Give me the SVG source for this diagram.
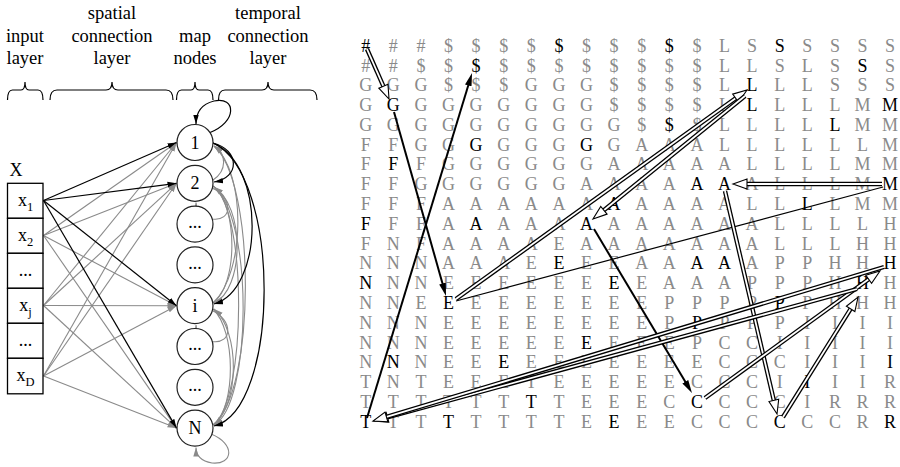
<svg xmlns="http://www.w3.org/2000/svg" width="900" height="467" viewBox="0 0 900 467">
  <style>
    text { font-family: "Liberation Serif", "Times New Roman", serif; }
    .hdr { font-size: 18.5px; fill: #000; text-anchor: middle; }
    .lbl { font-size: 18px; fill: #000; text-anchor: middle; }
    .brace { fill: none; stroke: #000; stroke-width: 1.2; }
    .cell { fill: #fff; stroke: #000; stroke-width: 1.3; }
    .node circle { fill: #fff; stroke: #222; stroke-width: 1.2; }
    .ek { fill: none; stroke: #000; stroke-width: 1.2; }
    .eg { fill: none; stroke: #8a8a8a; stroke-width: 1.1; }
    .row { font-size: 18px; fill: #8a8a8a; text-anchor: middle; }
    .row .k { fill: #000; }
    .ho { fill: none; stroke: #000; stroke-width: 4.4; }
    .hi { fill: none; stroke: #fff; stroke-width: 1.8; }
    .so { fill: none; stroke: #000; stroke-width: 2; }
    .thin { fill: none; stroke: #000; stroke-width: 1.2; }
  </style>
  <defs>
    <marker id="ak" markerUnits="userSpaceOnUse" markerWidth="9" markerHeight="7" viewBox="0 0 9 7" refX="9" refY="3.5" orient="auto">
      <path d="M0,0.8 L9,3.5 L0,6.2 Z" fill="#000"/>
    </marker>
    <marker id="ag" markerUnits="userSpaceOnUse" markerWidth="9" markerHeight="7" viewBox="0 0 9 7" refX="9" refY="3.5" orient="auto">
      <path d="M0,0.8 L9,3.5 L0,6.2 Z" fill="#8a8a8a"/>
    </marker>
    <marker id="sh" markerUnits="userSpaceOnUse" markerWidth="13" markerHeight="8" viewBox="0 0 13 8" refX="7" refY="4" orient="auto">
      <path d="M0,0.6 L13,4 L0,7.4 Z" fill="#000"/>
    </marker>
    <marker id="hh" markerUnits="userSpaceOnUse" markerWidth="16" markerHeight="12" viewBox="0 0 16 12" refX="7" refY="6" orient="auto" overflow="visible">
      <path d="M1,1 L15,6 L1,11 Z" fill="#fff" stroke="#000" stroke-width="1.1" stroke-linejoin="miter"/>
    </marker>
  </defs>

  <!-- column headings -->
  <g id="headings">
    <text class="hdr" x="25" y="41.5">input</text>
    <text class="hdr" x="25" y="64">layer</text>
    <text class="hdr" x="112" y="19">spatial</text>
    <text class="hdr" x="112" y="41.5">connection</text>
    <text class="hdr" x="112" y="64">layer</text>
    <text class="hdr" x="195" y="41.5">map</text>
    <text class="hdr" x="195" y="64">nodes</text>
    <text class="hdr" x="268" y="19">temporal</text>
    <text class="hdr" x="268" y="41.5">connection</text>
    <text class="hdr" x="268" y="64">layer</text>
  </g>

  <!-- curly braces under the headings -->
  <g id="braces">
    <path class="brace" d="M7.5,100 Q7.5,90 12.5,90 L21,90 Q25,90 25,82 Q25,90 29,90 L38,90 Q43,90 43,100"/>
    <path class="brace" d="M50,100 Q50,90 57,90 L106,90 Q112,90 112,82 Q112,90 118,90 L166,90 Q173,90 173,100"/>
    <path class="brace" d="M176.5,100 Q176.5,90 181.5,90 L191,90 Q195,90 195,82 Q195,90 199,90 L208,90 Q213,90 213,100"/>
    <path class="brace" d="M218.5,100 Q218.5,90 225,90 L262,90 Q268,90 268,82 Q268,90 274,90 L310,90 Q317,90 317,100"/>
  </g>

  <!-- all connectors of the network -->
  <g id="connectors">
    <!-- spatial connections, grey inputs -->
    <g id="spatial-grey">
      <path class="eg" d="M43.5,235.5 L176.5,142.5" marker-end="url(#ag)"/>
      <path class="eg" d="M43.5,235.5 L176.5,183.3" marker-end="url(#ag)"/>
      <path class="eg" d="M43.5,235.5 L176.5,305.7" marker-end="url(#ag)"/>
      <path class="eg" d="M43.5,235.5 L176.5,428.1" marker-end="url(#ag)"/>
      <path class="eg" d="M43.5,305.5 L176.5,142.5" marker-end="url(#ag)"/>
      <path class="eg" d="M43.5,305.5 L176.5,183.3" marker-end="url(#ag)"/>
      <path class="eg" d="M43.5,305.5 L176.5,305.7" marker-end="url(#ag)"/>
      <path class="eg" d="M43.5,305.5 L176.5,428.1" marker-end="url(#ag)"/>
      <path class="eg" d="M43.5,376 L176.5,142.5" marker-end="url(#ag)"/>
      <path class="eg" d="M43.5,376 L176.5,183.3" marker-end="url(#ag)"/>
      <path class="eg" d="M43.5,376 L176.5,305.7" marker-end="url(#ag)"/>
      <path class="eg" d="M43.5,376 L176.5,428.1" marker-end="url(#ag)"/>
    </g>
    <!-- spatial connections from x1 -->
    <g id="spatial-x1">
      <path class="ek" d="M43.5,200.5 L176.5,142.5" marker-end="url(#ak)"/>
      <path class="ek" d="M43.5,200.5 L176.5,183.3" marker-end="url(#ak)"/>
      <path class="ek" d="M43.5,200.5 L176.5,305.7" marker-end="url(#ak)"/>
      <path class="ek" d="M43.5,200.5 L176.5,428.1" marker-end="url(#ak)"/>
    </g>
    <!-- temporal connections between map nodes, grey -->
    <g id="temporal-grey">
      <path class="eg" d="M212,188 C233,197 233,222 212,219 C201,217 196,212 196,202.5" marker-end="url(#ag)"/>
      <path class="eg" d="M212,310.5 C233,319.5 233,344.5 212,341.5 C201,339.5 196,334.5 196,325" marker-end="url(#ag)"/>
      <path class="eg" d="M211,434 C236,444 233,465 212,463 C201,461 196,456 196,447.5" marker-end="url(#ag)"/>
      <path class="eg" d="M213,180 C227,171 227,153 214,146" marker-end="url(#ag)"/>
      <path class="eg" d="M213,303 C246,272 246,172 214,146" marker-end="url(#ag)"/>
      <path class="eg" d="M213,425 C256,392 256,182 214,146" marker-end="url(#ag)"/>
      <path class="eg" d="M213,186 C246,206 244,290 214,303" marker-end="url(#ag)"/>
      <path class="eg" d="M213,186 C254,216 252,405 214,425" marker-end="url(#ag)"/>
      <path class="eg" d="M213,303 C238,285 238,207 214,187" marker-end="url(#ag)"/>
      <path class="eg" d="M213,309 C236,331 236,405 214,425" marker-end="url(#ag)"/>
      <path class="eg" d="M213,425 C247,400 247,212 214,187" marker-end="url(#ag)"/>
      <path class="eg" d="M213,425 C240,405 240,331 214,309" marker-end="url(#ag)"/>
    </g>
    <!-- temporal connections leaving node 1 -->
    <g id="temporal-node1">
      <path class="ek" d="M209,133 C238,122 236,96 214,101 C202,104 196,112 196,124" marker-end="url(#ak)"/>
      <path class="ek" d="M213,143 C240,150 240,178 214,182" marker-end="url(#ak)"/>
      <path class="ek" d="M213,143 C266,165 264,290 214,304" marker-end="url(#ak)"/>
      <path class="ek" d="M213,143 C282,175 280,410 214,426" marker-end="url(#ak)"/>
    </g>
  </g>

  <!-- input layer -->
  <text class="lbl" x="16" y="175.5">X</text>
  <g id="input-x1"><rect class="cell" x="7.5" y="183.3" width="35.5" height="35"/><text class="lbl" x="25.5" y="205.5">x<tspan font-size="12.5" dy="5">1</tspan></text></g>
  <g id="input-x2"><rect class="cell" x="7.5" y="218.3" width="35.5" height="35"/><text class="lbl" x="25.5" y="240.5">x<tspan font-size="12.5" dy="5">2</tspan></text></g>
  <g id="input-dots1"><rect class="cell" x="7.5" y="253.3" width="35.5" height="35"/><text class="lbl" x="25.5" y="276">...</text></g>
  <g id="input-xj"><rect class="cell" x="7.5" y="288.3" width="35.5" height="35"/><text class="lbl" x="25.5" y="310.5">x<tspan font-size="12.5" dy="5">j</tspan></text></g>
  <g id="input-dots2"><rect class="cell" x="7.5" y="323.3" width="35.5" height="35"/><text class="lbl" x="25.5" y="346">...</text></g>
  <g id="input-xD"><rect class="cell" x="7.5" y="358.3" width="35.5" height="35.5"/><text class="lbl" x="25.5" y="381">x<tspan font-size="12.5" dy="5">D</tspan></text></g>

  <!-- map nodes -->
  <g id="node-1" class="node"><circle cx="195" cy="142.5" r="18"/><text class="lbl" x="195" y="148.5">1</text></g>
  <g id="node-2" class="node"><circle cx="195" cy="183.3" r="18"/><text class="lbl" x="195" y="189.3">2</text></g>
  <g id="node-3" class="node"><circle cx="195" cy="224.1" r="18"/><text class="lbl" x="195" y="228">...</text></g>
  <g id="node-4" class="node"><circle cx="195" cy="264.9" r="18"/><text class="lbl" x="195" y="268.8">...</text></g>
  <g id="node-i" class="node"><circle cx="195" cy="305.7" r="18"/><text class="lbl" x="195" y="311.7">i</text></g>
  <g id="node-6" class="node"><circle cx="195" cy="346.5" r="18"/><text class="lbl" x="195" y="350.4">...</text></g>
  <g id="node-7" class="node"><circle cx="195" cy="387.3" r="18"/><text class="lbl" x="195" y="391.2">...</text></g>
  <g id="node-N" class="node"><circle cx="195" cy="428.1" r="18"/><text class="lbl" x="195" y="434.1">N</text></g>

  <!-- symbol grid of the map: 20 columns x 20 rows, highlighted cells in black -->
  <g id="grid">
    <text class="row" x="365.7 393.3 420.9 448.5 476.1 503.7 531.3 558.9 586.5 614.1 641.7 669.3 696.9 724.5 752.1 779.7 807.3 834.9 862.5 890.1" y="51.7"><tspan class="k">#</tspan>##$$$$<tspan class="k">$</tspan>$$$<tspan class="k">$</tspan>$LS<tspan class="k">S</tspan>SSSS</text>
    <text class="row" x="365.7 393.3 420.9 448.5 476.1 503.7 531.3 558.9 586.5 614.1 641.7 669.3 696.9 724.5 752.1 779.7 807.3 834.9 862.5 890.1" y="71.5">##$$<tspan class="k">$</tspan>$$$$$$$$LLSLS<tspan class="k">S</tspan>S</text>
    <text class="row" x="365.7 393.3 420.9 448.5 476.1 503.7 531.3 558.9 586.5 614.1 641.7 669.3 696.9 724.5 752.1 779.7 807.3 834.9 862.5 890.1" y="91.3">GGG$$$GGG$$$$L<tspan class="k">L</tspan>LLSSS</text>
    <text class="row" x="365.7 393.3 420.9 448.5 476.1 503.7 531.3 558.9 586.5 614.1 641.7 669.3 696.9 724.5 752.1 779.7 807.3 834.9 862.5 890.1" y="111.1">G<tspan class="k">G</tspan>GGGGGGG$$$$L<tspan class="k">L</tspan>LLLM<tspan class="k">M</tspan></text>
    <text class="row" x="365.7 393.3 420.9 448.5 476.1 503.7 531.3 558.9 586.5 614.1 641.7 669.3 696.9 724.5 752.1 779.7 807.3 834.9 862.5 890.1" y="130.9">GGGGGGGGGG$<tspan class="k">$</tspan>$LLLL<tspan class="k">L</tspan>MM</text>
    <text class="row" x="365.7 393.3 420.9 448.5 476.1 503.7 531.3 558.9 586.5 614.1 641.7 669.3 696.9 724.5 752.1 779.7 807.3 834.9 862.5 890.1" y="150.7">FFGG<tspan class="k">G</tspan>GGG<tspan class="k">G</tspan>GAAALLLLLLM</text>
    <text class="row" x="365.7 393.3 420.9 448.5 476.1 503.7 531.3 558.9 586.5 614.1 641.7 669.3 696.9 724.5 752.1 779.7 807.3 834.9 862.5 890.1" y="170.4">F<tspan class="k">F</tspan>FGGGGGGAAAAALLLLMM</text>
    <text class="row" x="365.7 393.3 420.9 448.5 476.1 503.7 531.3 558.9 586.5 614.1 641.7 669.3 696.9 724.5 752.1 779.7 807.3 834.9 862.5 890.1" y="190.2">FFGGGGGGAAAA<tspan class="k">AA</tspan>ALLLM<tspan class="k">M</tspan></text>
    <text class="row" x="365.7 393.3 420.9 448.5 476.1 503.7 531.3 558.9 586.5 614.1 641.7 669.3 696.9 724.5 752.1 779.7 807.3 834.9 862.5 890.1" y="210">FFFAAAAAA<tspan class="k">A</tspan>AAAALL<tspan class="k">L</tspan>LMM</text>
    <text class="row" x="365.7 393.3 420.9 448.5 476.1 503.7 531.3 558.9 586.5 614.1 641.7 669.3 696.9 724.5 752.1 779.7 807.3 834.9 862.5 890.1" y="229.8"><tspan class="k">F</tspan>FFA<tspan class="k">A</tspan>AAA<tspan class="k">A</tspan>AAAAAALLLLH</text>
    <text class="row" x="365.7 393.3 420.9 448.5 476.1 503.7 531.3 558.9 586.5 614.1 641.7 669.3 696.9 724.5 752.1 779.7 807.3 834.9 862.5 890.1" y="249.6">FNFAAAAEAAAAAAALLLHH</text>
    <text class="row" x="365.7 393.3 420.9 448.5 476.1 503.7 531.3 558.9 586.5 614.1 641.7 669.3 696.9 724.5 752.1 779.7 807.3 834.9 862.5 890.1" y="269.4">NNNAAAE<tspan class="k">E</tspan>EEAA<tspan class="k">AA</tspan>APPHH<tspan class="k">H</tspan></text>
    <text class="row" x="365.7 393.3 420.9 448.5 476.1 503.7 531.3 558.9 586.5 614.1 641.7 669.3 696.9 724.5 752.1 779.7 807.3 834.9 862.5 890.1" y="289.2"><tspan class="k">N</tspan>NNEEEEEE<tspan class="k">E</tspan>EAAAPPPH<tspan class="k">H</tspan>H</text>
    <text class="row" x="365.7 393.3 420.9 448.5 476.1 503.7 531.3 558.9 586.5 614.1 641.7 669.3 696.9 724.5 752.1 779.7 807.3 834.9 862.5 890.1" y="309">NNE<tspan class="k">E</tspan>EEEEEEEPPPP<tspan class="k">P</tspan>PHHH</text>
    <text class="row" x="365.7 393.3 420.9 448.5 476.1 503.7 531.3 558.9 586.5 614.1 641.7 669.3 696.9 724.5 752.1 779.7 807.3 834.9 862.5 890.1" y="328.8">NNNEEEEEEEEP<tspan class="k">P</tspan>PPPIIII</text>
    <text class="row" x="365.7 393.3 420.9 448.5 476.1 503.7 531.3 558.9 586.5 614.1 641.7 669.3 696.9 724.5 752.1 779.7 807.3 834.9 862.5 890.1" y="348.6">NNNEEEEE<tspan class="k">E</tspan>EEEPCCIIIII</text>
    <text class="row" x="365.7 393.3 420.9 448.5 476.1 503.7 531.3 558.9 586.5 614.1 641.7 669.3 696.9 724.5 752.1 779.7 807.3 834.9 862.5 890.1" y="368.3">N<tspan class="k">N</tspan>NEE<tspan class="k">E</tspan>EEEEEEECCCIII<tspan class="k">I</tspan></text>
    <text class="row" x="365.7 393.3 420.9 448.5 476.1 503.7 531.3 558.9 586.5 614.1 641.7 669.3 696.9 724.5 752.1 779.7 807.3 834.9 862.5 890.1" y="388.1">TNTEEETEEEEECCCI<tspan class="k">I</tspan>IIR</text>
    <text class="row" x="365.7 393.3 420.9 448.5 476.1 503.7 531.3 558.9 586.5 614.1 641.7 669.3 696.9 724.5 752.1 779.7 807.3 834.9 862.5 890.1" y="407.9">TTTTTT<tspan class="k">T</tspan>TEEEC<tspan class="k">C</tspan>CCCIRRR</text>
    <text class="row" x="365.7 393.3 420.9 448.5 476.1 503.7 531.3 558.9 586.5 614.1 641.7 669.3 696.9 724.5 752.1 779.7 807.3 834.9 862.5 890.1" y="427.7"><tspan class="k">T</tspan>TT<tspan class="k">T</tspan>TTTTE<tspan class="k">E</tspan>EECCC<tspan class="k">C</tspan>CCR<tspan class="k">R</tspan></text>
  </g>

  <!-- trajectories drawn over the grid -->
  <g id="trajectories">
    <path class="thin" d="M456,301 L883,187"/>
    <path class="so" d="M394,112 L444.4,290.2" marker-end="url(#sh)"/>
    <path class="so" d="M594,229 L688.9,387.8" marker-end="url(#sh)"/>
    <path class="so" d="M367,418 L470.3,78.7" marker-end="url(#sh)"/>

    <path class="ho" d="M367,49 L385.8,91.7"/><path class="hi" d="M367,49 L385.8,91.7" marker-end="url(#hh)"/>
    <path class="ho" d="M456,299 L740.5,94.7"/><path class="hi" d="M456,299 L740.5,94.7" marker-end="url(#hh)"/>
    <path class="ho" d="M745,96 L599.2,214"/><path class="hi" d="M745,96 L599.2,214" marker-end="url(#hh)"/>
    <path class="ho" d="M882,184 L741,184"/><path class="hi" d="M882,184 L741,184" marker-end="url(#hh)"/>
    <path class="ho" d="M725,191 L775.2,406.2"/><path class="hi" d="M725,191 L775.2,406.2" marker-end="url(#hh)"/>
    <path class="ho" d="M705,398 L873.5,275.7"/><path class="hi" d="M705,398 L873.5,275.7" marker-end="url(#hh)"/>
    <path class="ho" d="M783,417 L853.8,303.8"/><path class="hi" d="M783,417 L853.8,303.8" marker-end="url(#hh)"/>
    <path class="ho" d="M857,289 L381.7,418.9"/><path class="hi" d="M857,289 L381.7,418.9" marker-end="url(#hh)"/>
    <path class="ho" d="M884,267 L380.7,418.7"/><path class="hi" d="M884,267 L380.7,418.7" marker-end="url(#hh)"/>
  </g>
</svg>
